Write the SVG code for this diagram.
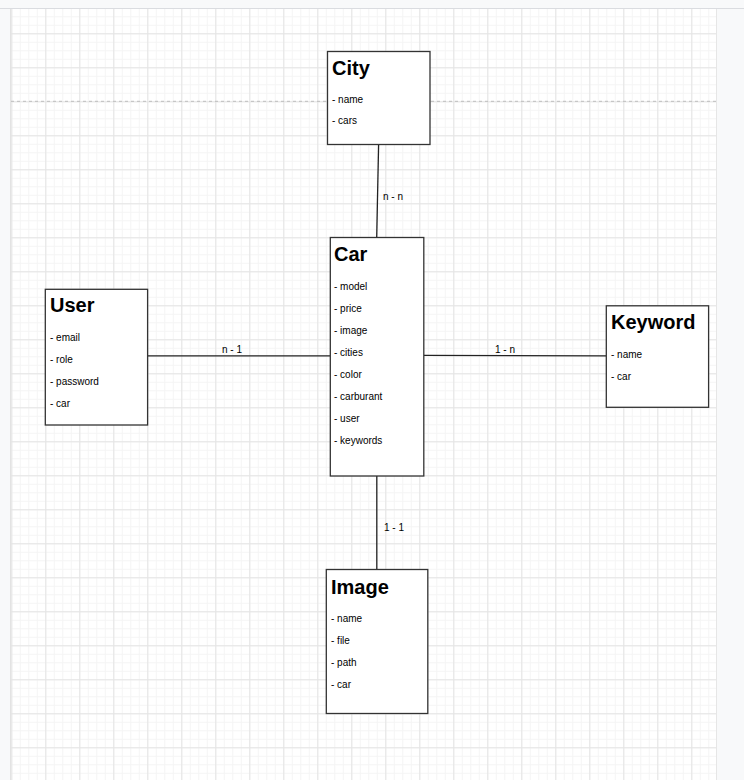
<svg xmlns="http://www.w3.org/2000/svg" width="744" height="780" viewBox="0 0 744 780">
<defs>
<pattern id="minor" patternUnits="userSpaceOnUse" x="11.3" y="-0.7" width="8.5" height="8.5">
<path d="M0 0.5H8.5M0.5 0V8.5" fill="none" stroke="#f4f4f4" stroke-width="1"/>
</pattern>
<pattern id="major" patternUnits="userSpaceOnUse" x="11.3" y="-0.7" width="34" height="34">
<path d="M0 0.5H34M0.5 0V34" fill="none" stroke="#e4e4e4" stroke-width="1"/>
</pattern>
<style>
.box{fill:#fff;stroke:#333;stroke-width:1.3}
.title{font-family:"Liberation Sans",Arial,sans-serif;font-size:20px;font-weight:bold;fill:#000}
.item{font-family:"Liberation Sans",Arial,sans-serif;font-size:10px;fill:#000}
.lbl{font-family:"Liberation Sans",Arial,sans-serif;font-size:10px;fill:#000;text-anchor:middle}
.edge{stroke:#222;stroke-width:1.3;fill:none}
</style>
</defs>
<rect x="0" y="0" width="744" height="780" fill="#f8f9fa"/>
<rect x="11" y="9" width="705" height="771" fill="#fff"/>
<rect x="11" y="9" width="705" height="771" fill="url(#minor)"/>
<rect x="11" y="9" width="705" height="771" fill="url(#major)"/>
<line x1="0" y1="8.5" x2="744" y2="8.5" stroke="#dadce0"/>
<line x1="10.5" y1="9" x2="10.5" y2="780" stroke="#e3e3e3"/>
<line x1="716.5" y1="9" x2="716.5" y2="780" stroke="#e6e6e6"/>
<line x1="11" y1="101.3" x2="716" y2="101.3" stroke="#bdbdbd" stroke-dasharray="3,3"/>

<g id="connectors">
<line class="edge" x1="378.6" y1="145" x2="376.7" y2="237.5"/>
<line class="edge" x1="148" y1="355.8" x2="330" y2="355.8"/>
<line class="edge" x1="424" y1="355.3" x2="606" y2="355.8"/>
<line class="edge" x1="376.8" y1="476" x2="376.8" y2="569.5"/>
<text class="lbl" x="393" y="199.5">n - n</text>
<text class="lbl" x="232" y="352.5">n - 1</text>
<text class="lbl" x="505" y="352.5">1 - n</text>
<text class="lbl" x="394" y="530.5">1 - 1</text>
</g>

<g id="city">
<rect class="box" x="327.5" y="51.5" width="102.5" height="93"/>
<text class="title" x="332" y="74.5">City</text>
<text class="item" x="332" y="102.5">- name</text>
<text class="item" x="332" y="124">- cars</text>
</g>

<g id="car">
<rect class="box" x="330.3" y="237.5" width="93.5" height="238.5"/>
<text class="title" x="334" y="261">Car</text>
<text class="item" x="334" y="289.5">- model</text>
<text class="item" x="334" y="311.5">- price</text>
<text class="item" x="334" y="333.5">- image</text>
<text class="item" x="334" y="355.5">- cities</text>
<text class="item" x="334" y="378">- color</text>
<text class="item" x="334" y="400">- carburant</text>
<text class="item" x="334" y="422">- user</text>
<text class="item" x="334" y="444">- keywords</text>
</g>

<g id="user">
<rect class="box" x="45.3" y="289.3" width="102.3" height="135.7"/>
<text class="title" x="50" y="311.5">User</text>
<text class="item" x="50" y="340.5">- email</text>
<text class="item" x="50" y="362.5">- role</text>
<text class="item" x="50" y="384.5">- password</text>
<text class="item" x="50" y="406.5">- car</text>
</g>

<g id="keyword">
<rect class="box" x="606.3" y="305.8" width="102.3" height="101.5"/>
<text class="title" x="611" y="329">Keyword</text>
<text class="item" x="611" y="357.5">- name</text>
<text class="item" x="611" y="379.5">- car</text>
</g>

<g id="image">
<rect class="box" x="326.3" y="569.5" width="101.5" height="144"/>
<text class="title" x="331" y="593.5">Image</text>
<text class="item" x="331" y="621.5">- name</text>
<text class="item" x="331" y="643.5">- file</text>
<text class="item" x="331" y="666">- path</text>
<text class="item" x="331" y="688">- car</text>
</g>
</svg>
